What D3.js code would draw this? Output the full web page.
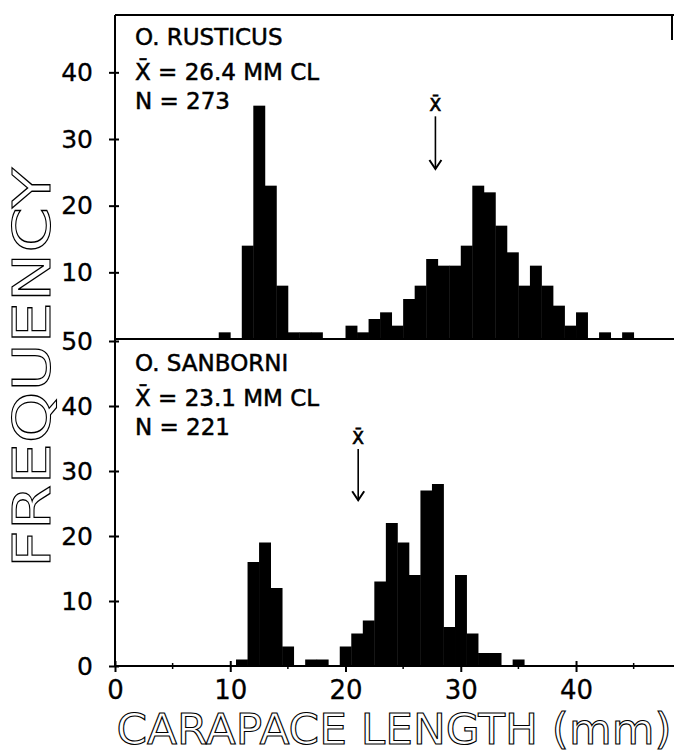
<!DOCTYPE html>
<html>
<head>
<meta charset="utf-8">
<script src="https://cdnjs.cloudflare.com/ajax/libs/d3/7.8.5/d3.min.js"></script>
<style>
body { margin: 0; background: #fff; }
svg { display: block; font-family: "DejaVu Sans", sans-serif; }
</style>
</head>
<body>
<div id="chart"></div>
<script>
// lower class limit (mm) of each 1 mm class, and the counts
var rusticusBins = [9, 10, 11, 12, 13, 14, 15, 16, 17, 18, 19, 20, 21, 22, 23, 24, 25, 26,
    27, 28, 29, 30, 31, 32, 33, 34, 35, 36, 37, 38, 39, 40, 41, 42, 43, 44];
var rusticusCounts = [1, 0, 14, 35, 23, 8, 1, 1, 1, 0, 0, 2, 1, 3, 4, 2, 6, 8,
    12, 11, 11, 14, 23, 22, 17, 13, 8, 11, 8, 5, 2, 4, 0, 1, 0, 1];

var sanborniBins = [10.5, 11.5, 12.5, 13.5, 14.5, 15.5, 16.5, 17.5, 18.5, 19.5, 20.5, 21.5,
    22.5, 23.5, 24.5, 25.5, 26.5, 27.5, 28.5, 29.5, 30.5, 31.5, 32.5, 33.5, 34.5];
var sanborniCounts = [1, 16, 19, 12, 3, 0, 1, 1, 0, 3, 5, 7,
    13, 22, 19, 14, 27, 28, 6, 14, 5, 2, 2, 0, 1];

var panelNames = ["O. RUSTICUS", "O. SANBORNI"];
var panelMeans = ["26.4", "23.1"];
var panelN = ["273", "221"];
var meanArrowAt = [27.8, 21.1];   // where the x-bar arrows sit on the figure

var xTicks = [0, 10, 20, 30, 40];
var xMinorTicks = [5, 15, 25, 35, 45];
var topYTicks = [10, 20, 30, 40];
var bottomYTicks = [0, 10, 20, 30, 40, 50];

var svgWidth = 674;
var svgHeight = 753;
var margin = {top: 15, left: 115};

var svg = d3.select("#chart")
    .append("svg")
    .attr("width", svgWidth)
    .attr("height", svgHeight);

var xScale = d3.scaleLinear()
    .domain([0, 48.5])
    .range([margin.left, svgWidth]);

var panels = [
    {
        bins: rusticusBins, counts: rusticusCounts, ticks: topYTicks,
        y: d3.scaleLinear().domain([0, 48.6]).range([339, margin.top]),
        top: margin.top
    },
    {
        bins: sanborniBins, counts: sanborniCounts, ticks: bottomYTicks,
        y: d3.scaleLinear().domain([0, 50]).range([666, 341]),
        top: 341
    }
];

panels.forEach(function(p, i) {
    var g = svg.append("g");

    // histogram bars
    g.selectAll("rect")
        .data(d3.zip(p.bins, p.counts).filter(d => d[1] > 0))
        .enter()
        .append("rect")
        .attr("x", d => xScale(d[0]))
        .attr("width", d => xScale(d[0] + 1) - xScale(d[0]) + 0.4)
        .attr("y", d => p.y(d[1]))
        .attr("height", d => p.y(0) - p.y(d[1]))
        .attr("fill", "#000");

    // baseline
    g.append("line")
        .attr("x1", xScale(0)).attr("x2", svgWidth)
        .attr("y1", p.y(0)).attr("y2", p.y(0))
        .attr("stroke", "#000").attr("stroke-width", 2);

    // left ticks, crossing the axis
    var yAxis = g.append("g")
        .attr("transform", `translate(${margin.left}, 0)`)
        .call(d3.axisLeft(p.y).tickValues(p.ticks).tickSize(6).tickPadding(16));
    yAxis.select(".domain").remove();
    yAxis.selectAll("line").attr("x1", 4).attr("stroke-width", 2);
    yAxis.selectAll("text")
        .attr("font-size", 25)
        .attr("font-family", "DejaVu Sans")
        .attr("fill", "#000")
        .attr("stroke", "#000").attr("stroke-width", 0.3);

    // species label block
    var tx = 135;
    var lines = [panelNames[i], "X\u0304 = " + panelMeans[i] + " MM CL", "N = " + panelN[i]];
    var offsets = [30, 65, 94];
    lines.forEach(function(t, j) {
        g.append("text").attr("x", tx).attr("y", p.top + offsets[j])
            .attr("font-size", 23).attr("stroke", "#000").attr("stroke-width", 0.5)
            .text(t);
    });

    // mean arrow
    var ax = xScale(meanArrowAt[i]);
    var y0 = p.y(33.4);
    var y1 = p.y(25.5);
    g.append("text")
        .attr("x", ax).attr("y", y0 - 5)
        .attr("text-anchor", "middle")
        .attr("font-size", 17).attr("stroke", "#000").attr("stroke-width", 0.7)
        .text("X\u0304");
    g.append("line")
        .attr("x1", ax).attr("x2", ax)
        .attr("y1", y0).attr("y2", y1)
        .attr("stroke", "#000").attr("stroke-width", 1.6);
    g.append("path")
        .attr("d", `M${ax - 6},${y1 - 9}L${ax},${y1}L${ax + 6},${y1 - 9}`)
        .attr("fill", "none").attr("stroke", "#000").attr("stroke-width", 2);
});

// frame: left axis and top edge
svg.append("line")
    .attr("x1", margin.left).attr("x2", margin.left)
    .attr("y1", margin.top).attr("y2", 666)
    .attr("stroke", "#000").attr("stroke-width", 2);
svg.append("line")
    .attr("x1", margin.left).attr("x2", svgWidth)
    .attr("y1", margin.top).attr("y2", margin.top)
    .attr("stroke", "#000").attr("stroke-width", 2);
svg.append("line")
    .attr("x1", svgWidth - 2).attr("x2", svgWidth - 2)
    .attr("y1", margin.top).attr("y2", 40)
    .attr("stroke", "#000").attr("stroke-width", 2);

// bottom axis
var xAxis = svg.append("g")
    .attr("transform", "translate(0, 666)")
    .call(d3.axisBottom(xScale).tickValues(xTicks).tickSize(6).tickPadding(9));
xAxis.select(".domain").remove();
xAxis.selectAll("line").attr("y1", -5).attr("stroke-width", 2);
xAxis.selectAll("text")
    .attr("font-size", 26)
    .attr("font-family", "DejaVu Sans")
    .attr("fill", "#000")
    .attr("stroke", "#000").attr("stroke-width", 0.3);

svg.append("g")
    .selectAll("line")
    .data(xMinorTicks)
    .enter()
    .append("line")
    .attr("x1", d => xScale(d)).attr("x2", d => xScale(d))
    .attr("y1", 663).attr("y2", 669)
    .attr("stroke", "#000").attr("stroke-width", 1.5);

// axis titles, outlined lettering
svg.append("text")
    .attr("transform", "translate(50, 368) rotate(-90)")
    .attr("text-anchor", "middle")
    .attr("font-size", 51)
    .attr("textLength", 400)
    .attr("lengthAdjust", "spacingAndGlyphs")
    .attr("fill", "#fff").attr("stroke", "#000").attr("stroke-width", 1.1)
    .text("FREQUENCY");

svg.append("text")
    .attr("x", 394).attr("y", 744)
    .attr("text-anchor", "middle")
    .attr("font-size", 43)
    .attr("textLength", 555)
    .attr("lengthAdjust", "spacingAndGlyphs")
    .attr("fill", "#fff").attr("stroke", "#000").attr("stroke-width", 1.1)
    .text("CARAPACE LENGTH (mm)");
</script>
</body>
</html>
